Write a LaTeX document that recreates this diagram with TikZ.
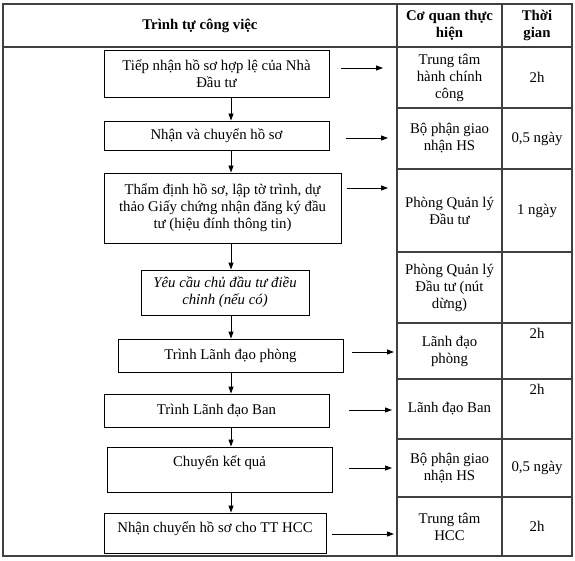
\documentclass[tikz,border=0pt]{standalone}
\usepackage{fontspec}
\setmainfont{Liberation Serif}
\usetikzlibrary{arrows.meta}

\begin{document}
\begin{tikzpicture}[x=1bp,y=-1bp,
  every node/.style={font=\fontsize{14.8bp}{17bp}\selectfont, align=center, inner sep=0pt},
  box/.style={draw, line width=0.9bp},
  flow/.style={line width=0.9bp, -{Triangle[length=7bp,width=5bp]}},
  grid/.style={line width=1.2bp, black!75}]
\useasboundingbox (0,0) rectangle (575,561);
\draw[grid] (3,4) rectangle (572,556);
\draw[grid] (3,47) -- (572,47);
\draw[grid] (397,4) -- (397,556);
\draw[grid] (502,4) -- (502,556);
\foreach \y in {108,169,252,323,379,439,497}
  \draw[grid] (397,\y) -- (572,\y);
\node[font=\fontsize{14.8bp}{17bp}\selectfont\bfseries] (h1) at (200,25.5) {Trình tự công việc};
\node[font=\fontsize{14.8bp}{17bp}\selectfont\bfseries] (h2) at (449.5,25.5) {Cơ quan thực\\hiện};
\node[font=\fontsize{14.8bp}{17bp}\selectfont\bfseries] (h3) at (537,25.5) {Thời\\gian};
\node[box, minimum width=225bp, minimum height=47bp] (b1) at (216.5,73.5) {Tiếp nhận hồ sơ hợp lệ của Nhà\\Đầu tư};
\node[box, minimum width=225bp, minimum height=29bp] (b2) at (216.5,135.5) {Nhận và chuyển hồ sơ};
\node[box, minimum width=237bp, minimum height=70bp] (b3) at (222.5,208) {Thẩm định hồ sơ, lập tờ trình, dự\\thảo Giấy chứng nhận đăng ký đầu\\tư (hiệu đính thông tin)};
\node[box, minimum width=168bp, minimum height=45bp, font=\fontsize{14.8bp}{17bp}\selectfont\itshape] (b4) at (225,292.5) {Yêu cầu chủ đầu tư điều\\chỉnh (nếu có)};
\node[box, minimum width=225bp, minimum height=33bp] (b5) at (230.5,355.5) {Trình Lãnh đạo phòng};
\node[box, minimum width=225bp, minimum height=33bp] (b6) at (216.5,410.5) {Trình Lãnh đạo Ban};
\node[box, minimum width=225bp, text height=19bp, text depth=26bp] (b7) at (219.5,469.5) {Chuyển kết quả};
\node[box, minimum width=222bp, text height=19bp, text depth=21bp] (b8) at (215,533) {Nhận chuyển hồ sơ cho TT HCC};
\node (c1) at (449.5,77.5) {Trung tâm\\hành chính\\công};
\node (t1) at (537,77.5) {2h};
\node (c2) at (449.5,138.5) {Bộ phận giao\\nhận HS};
\node (t2) at (537,138.5) {0,5 ngày};
\node (c3) at (449.5,210.5) {Phòng Quản lý\\Đầu tư};
\node (t3) at (537,210.5) {1 ngày};
\node (c4) at (449.5,287.5) {Phòng Quản lý\\Đầu tư (nút\\dừng)};
\node (c5) at (449.5,351) {Lãnh đạo\\phòng};
\node (t5) at (537,333) {2h};
\node (c6) at (449.5,409) {Lãnh đạo Ban};
\node (t6) at (537,389) {2h};
\node (c7) at (449.5,468) {Bộ phận giao\\nhận HS};
\node (t7) at (537,468) {0,5 ngày};
\node (c8) at (449.5,526.5) {Trung tâm\\HCC};
\node (t8) at (537,526.5) {2h};
\coordinate (spine) at (231,0);
\foreach \a/\b in {b1/b2,b2/b3,b3/b4,b4/b5,b5/b6,b6/b7,b7/b8}
  \draw[flow] (\a.south -| spine) -- (\b.north -| spine);
\foreach \i/\xa/\xb/\yy in {1/341/383/68,2/346/388/138,3/347/388/188,5/352/394/352,6/349/392/410,7/349/392/468,8/332/394/534}{
  \coordinate (s\i) at (\xa,\yy);
  \coordinate (e\i) at (\xb,\yy);
  \draw[flow] (s\i) -- (e\i);
}
\end{tikzpicture}
\end{document}
